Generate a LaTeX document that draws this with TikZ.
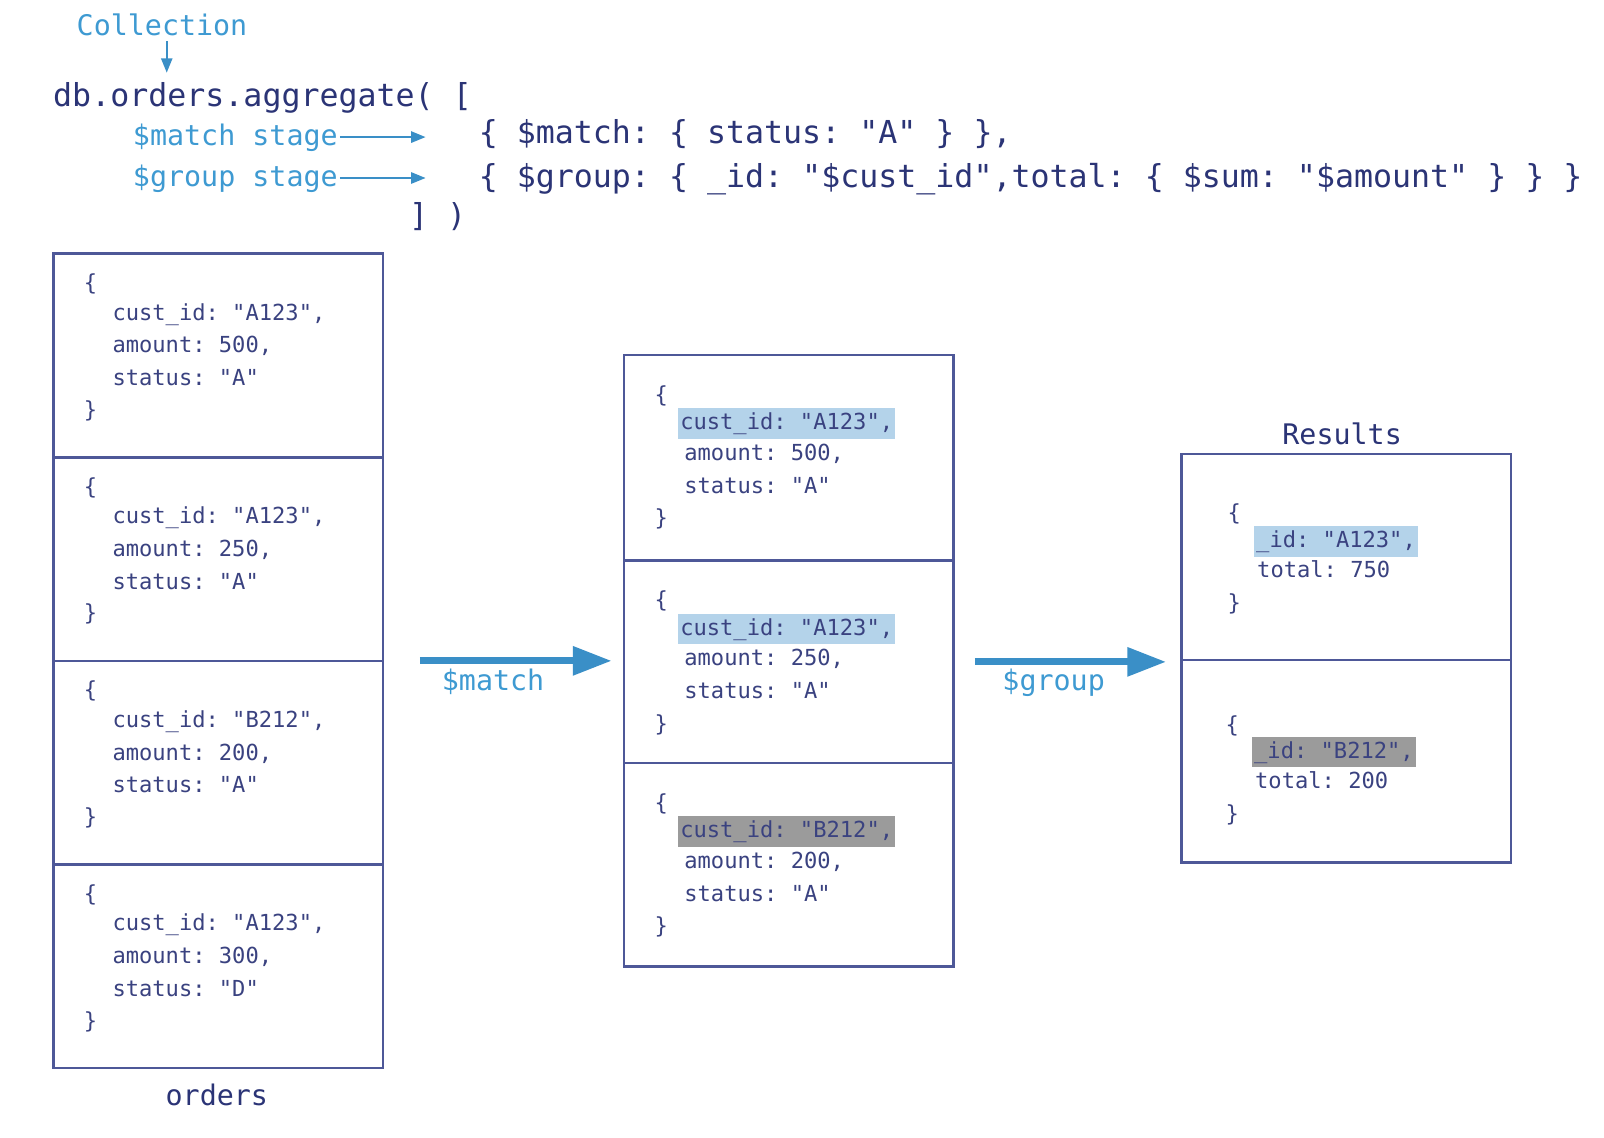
\documentclass[tikz,border=0pt]{standalone}
\usepackage{fontspec}
\usetikzlibrary{arrows.meta}
\newfontfamily\codefont{DejaVu Sans Mono}
\definecolor{navy}{RGB}{43,52,118}
\definecolor{boxtext}{RGB}{58,66,128}
\definecolor{border}{RGB}{78,88,152}
\definecolor{lblue}{RGB}{62,154,210}
\definecolor{ablue}{RGB}{58,143,199}
\definecolor{hlblue}{RGB}{180,211,234}
\definecolor{hlgray}{RGB}{155,155,155}
\frenchspacing
\begin{document}
\begin{tikzpicture}[x=1pt,y=-1pt,
 every node/.style={inner sep=0pt, outer sep=0pt},
 bigcode/.style={text=navy, font=\codefont\fontsize{30.9}{36}\selectfont, anchor=base west},
 lab/.style={text=lblue, font=\codefont\fontsize{27.7}{32}\selectfont, anchor=base west},
 ttl/.style={text=navy, font=\codefont\fontsize{27.7}{32}\selectfont, anchor=base},
 doc/.style={text=boxtext, font=\codefont\fontsize{21.6}{26}\selectfont, anchor=base west},
 hl/.style={doc, fill=#1, inner xsep=2pt, inner ysep=3pt, text height=18pt, text depth=6pt},
 cell/.style={draw=border, line width=2.4pt, minimum width=322pt, inner sep=0pt},
 thinarrow/.style={draw=ablue, line width=1.6pt, -{Triangle[length=14pt,width=11pt]}},
 fatarrow/.style={draw=ablue, line width=7pt, -{Triangle[length=38pt,width=27pt]}},
]
\fill[white] (0,0) rectangle (1568,1112);
\useasboundingbox (0,0) rectangle (1568,1112);

% header code
\node[lab] (coll) at (75,35) {Collection};
\node[bigcode] (agg) at (52,104) {db.orders.aggregate( [};
\node[lab] (mlab) at (130,142) {\$match stage};
\node[lab] (glab) at (130,182) {\$group stage};
\node[bigcode] (mcode) at (468,140) {\{ \$match: \{ status: "A" \} \},};
\node[bigcode] (gcode) at (468,183) {\{ \$group: \{ \_id: "\$cust\_id",total: \{ \$sum: "\$amount" \} \} \}};
\node[bigcode] (close) at (400,221) {] )};

\coordinate (ctip) at (163,71);
\draw[thinarrow] ([yshift=-5pt]coll.south -| ctip) -- (ctip);
\coordinate (mtip) at (416,134);
\coordinate (gtip) at (416,174);
\draw[thinarrow] ([xshift=2pt]mlab.east |- mtip) -- (mtip);
\draw[thinarrow] ([xshift=2pt]glab.east |- gtip) -- (gtip);

% orders collection
\foreach \i/\cid/\amt/\st in {1/A123/500/A, 2/A123/250/A, 3/B212/200/A, 4/A123/300/D}{
  \pgfmathsetmacro{\T}{248+(\i-1)*199}
  \node[cell, minimum height=199pt] (o\i) at (213.5,\T+99.5) {};
  \node[doc] (o\i-ob) at (82,\T+36) {\{};
  \node[doc] (o\i-k) at (110,\T+65) {cust\_id: "\cid",};
  \node[doc] (o\i-a) at (110,\T+97) {amount: \amt,};
  \node[doc] (o\i-s) at (110,\T+129) {status: "\st"};
  \node[doc] (o\i-cb) at (82,\T+160) {\}};
}
\node[ttl] (orders) at (212,1081) {orders};

% after $match
\node[cell, minimum height=201pt] (m1) at (771,447.5) {};
\node[cell, minimum height=198pt] (m2) at (771,647) {};
\node[cell, minimum height=199pt] (m3) at (771,845.5) {};
\foreach \i/\T/\cid/\amt/\col in {1/347/A123/500/hlblue, 2/548/A123/250/hlblue, 3/746/B212/200/hlgray}{
  \node[doc] (m\i-ob) at (640,\T+46) {\{};
  \node[hl=\col] (m\i-k) at (663,\T+73) {cust\_id: "\cid",};
  \node[doc] (m\i-a) at (669,\T+103) {amount: \amt,};
  \node[doc] (m\i-s) at (669,\T+135) {status: "A"};
  \node[doc] (m\i-cb) at (640,\T+167) {\}};
}

% results
\node[ttl] (results) at (1312,435) {Results};
\node[cell, minimum height=201pt] (r1) at (1316,544.5) {};
\node[cell, minimum height=198pt] (r2) at (1316,744) {};
\node[doc] (r1-ob) at (1200,509) {\{};
\node[hl=hlblue] (r1-k) at (1226,535) {\_id: "A123",};
\node[doc] (r1-t) at (1229,565) {total: 750};
\node[doc] (r1-cb) at (1200,597) {\}};
\node[doc] (r2-ob) at (1198,716) {\{};
\node[hl=hlgray] (r2-k) at (1224,741) {\_id: "B212",};
\node[doc] (r2-t) at (1227,771) {total: 200};
\node[doc] (r2-cb) at (1198,803) {\}};

% stage arrows
\draw[fatarrow] ([xshift=36pt]o2.south east) -- ([xshift=-12pt]m2.west |- o2.south east);
\node[lab, anchor=base] (matchlbl) at (482,675) {\$match};
\draw[fatarrow] ([xshift=21pt]m2.east) -- ([xshift=-15pt]r1.south west |- m2.east);
\node[lab, anchor=base] (grouplbl) at (1030,675) {\$group};
\end{tikzpicture}
\end{document}
